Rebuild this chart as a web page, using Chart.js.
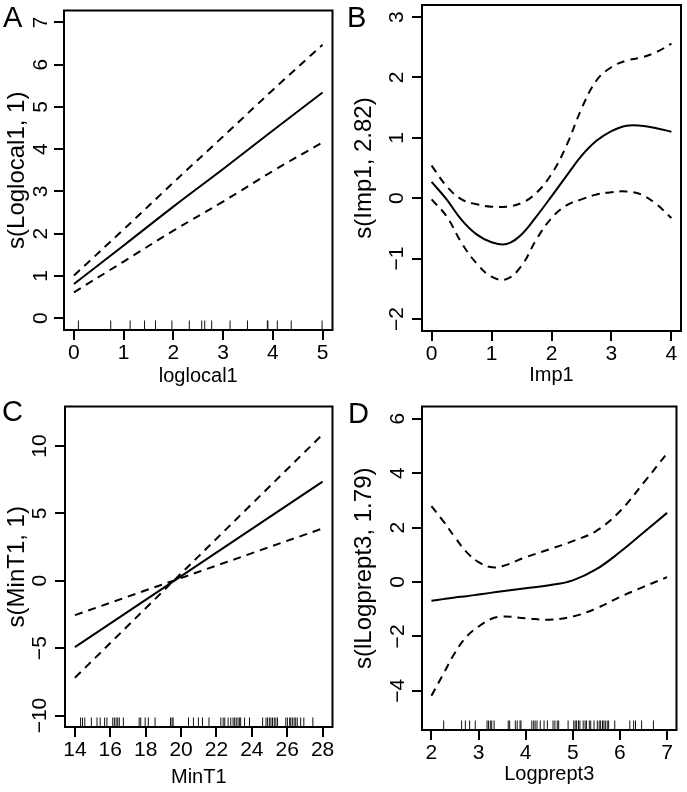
<!DOCTYPE html>
<html lang="en">
<head>
<meta charset="UTF-8">
<title>GAM smooth terms</title>
<script src="https://cdn.jsdelivr.net/npm/chart.js"></script>
<style>
  body { margin: 0; background: #fff; }
  #wrap { position: relative; width: 687px; height: 792px; }
  canvas { position: absolute; }
  .tag { position: absolute; font-family: 'Liberation Sans', Arial, sans-serif; font-size: 29px; color: #000; }
</style>
</head>
<body>
<div id="wrap">
  <canvas id="chartA" width="343" height="396" style="left:0;top:0"></canvas>
  <canvas id="chartB" width="344" height="396" style="left:343px;top:0"></canvas>
  <canvas id="chartC" width="343" height="396" style="left:0;top:396px"></canvas>
  <canvas id="chartD" width="344" height="396" style="left:343px;top:396px"></canvas>
  <div class="tag" style="left:3px;top:1px">A</div>
  <div class="tag" style="left:347px;top:1px">B</div>
  <div class="tag" style="left:2px;top:395px">C</div>
  <div class="tag" style="left:348px;top:397px">D</div>
</div>
<script>
// panel A: s(Loglocal1, 1)
var xA = [0, 1, 2, 3, 4, 5];
var fitA = [0.81, 1.72, 2.64, 3.53, 4.44, 5.34];
var upA = [1.01, 2.10, 3.21, 4.30, 5.40, 6.47];
var loA = [0.61, 1.34, 2.07, 2.76, 3.48, 4.16];
var rugA = [0.09, 0.74, 1.13, 1.42, 1.64, 1.97, 2.32, 2.57, 2.63, 2.77, 3.14, 3.49, 3.89, 3.9, 4.09, 4.37, 4.99];
var xTicksA = [0, 1, 2, 3, 4, 5];
var yTicksA = [0, 1, 2, 3, 4, 5, 6, 7];

// panel B: s(Imp1, 2.82)
var xB = [0, 0.25, 0.5, 0.75, 1, 1.25, 1.5, 1.75, 2, 2.25, 2.5, 2.75, 3, 3.25, 3.5, 3.75, 4];
var fitB = [0.27, -0.02, -0.36, -0.6, -0.73, -0.76, -0.6, -0.3, 0.03, 0.37, 0.7, 0.95, 1.11, 1.2, 1.2, 1.16, 1.1];
var upB = [0.54, 0.2, -0.02, -0.1, -0.14, -0.14, -0.08, 0.09, 0.4, 0.87, 1.48, 1.95, 2.17, 2.28, 2.33, 2.42, 2.56];
var loB = [-0.02, -0.3, -0.74, -1.08, -1.3, -1.34, -1.12, -0.68, -0.33, -0.12, -0.02, 0.06, 0.1, 0.11, 0.06, -0.1, -0.33];
var xTicksB = [0, 1, 2, 3, 4];
var yTicksB = [-2, -1, 0, 1, 2, 3];

// panel C: s(MinT1, 1)
var xC = [14, 28];
var fitC = [-4.92, 7.35];
var upC = [-7.2, 10.86];
var loC = [-2.55, 3.88];
var rugC = [14.32, 14.43, 14.56, 14.93, 15.25, 15.43, 15.68, 15.81, 16.14, 16.23, 16.33, 16.42, 16.51, 16.74,
  17.63, 17.72, 17.97, 18.15, 18.53, 19.40, 19.49, 19.55, 20.42, 20.70, 20.98, 21.21, 21.58, 22.25, 22.38,
  22.47, 22.66, 22.81, 22.94, 23.03, 23.12, 23.22, 23.31, 23.37, 23.59, 23.87, 24.61, 24.80, 24.89, 24.99,
  25.08, 25.17, 25.27, 25.36, 25.45, 25.92, 26.01, 26.14, 26.20, 26.29, 26.39, 26.48, 26.57, 26.76, 26.94, 27.45];
var xTicksC = [14, 16, 18, 20, 22, 24, 26, 28];
var yTicksC = [-10, -5, 0, 5, 10];

// panel D: s(lLogprept3, 1.79)
var xD = [2, 2.25, 2.5, 2.75, 3, 3.25, 3.5, 4, 4.5, 5, 5.5, 6, 6.5, 7];
var fitD = [-0.69, -0.63, -0.57, -0.52, -0.46, -0.4, -0.34, -0.23, -0.12, 0.06, 0.47, 1.1, 1.82, 2.54];
var upD = [2.79, 2.24, 1.64, 1.09, 0.73, 0.55, 0.58, 0.91, 1.2, 1.5, 1.88, 2.6, 3.64, 4.73];
var loD = [-4.18, -3.39, -2.6, -2.0, -1.64, -1.37, -1.27, -1.33, -1.39, -1.27, -0.97, -0.55, -0.18, 0.18];
var rugD = [2.26, 2.64, 2.72, 2.81, 2.93, 3.18, 3.21, 3.25, 3.28, 3.33, 3.63, 3.66, 3.78, 3.82, 3.88, 3.90,
  4.13, 4.17, 4.20, 4.24, 4.31, 4.39, 4.46, 4.58, 4.62, 4.67, 4.70, 4.90, 5.02, 5.05, 5.08, 5.12, 5.15, 5.22,
  5.26, 5.29, 5.35, 5.38, 5.45, 5.52, 5.56, 5.59, 5.63, 5.66, 5.69, 5.73, 5.76, 5.89, 6.21, 6.29, 6.33, 6.46, 6.71];
var xTicksD = [2, 3, 4, 5, 6, 7];
var yTicksD = [-4, -2, 0, 2, 4, 6];

var tickFont = { family: "'Liberation Sans', Arial, sans-serif", size: 21 };
var xTitleFont = { family: "'Liberation Sans', Arial, sans-serif", size: 20 };
var yTitleFont = { family: "'Liberation Sans', Arial, sans-serif", size: 24 };

function pts(xs, ys) {
  return xs.map(function (x, i) { return { x: x, y: ys[i] }; });
}
function minus(v) {
  return String(v).replace('-', '\u2212');
}

// full frame round the plot region, like R's bty="o"
var boxPlugin = {
  id: 'box',
  afterDraw: function (chart) {
    var a = chart.chartArea, ctx = chart.ctx;
    ctx.save();
    ctx.lineWidth = 2;
    ctx.strokeStyle = '#000';
    ctx.strokeRect(a.left, a.top, a.right - a.left, a.bottom - a.top);
    ctx.restore();
  }
};

function curve(data, dashed) {
  return {
    data: data,
    borderColor: '#000',
    borderWidth: 2,
    borderDash: dashed ? [8, 6] : [],
    pointRadius: 0,
    tension: 0.4,
    fill: false
  };
}

function panel(id, p) {
  var canvas = document.getElementById(id);
  var W = canvas.width, H = canvas.height;
  var datasets = [
    curve(pts(p.x, p.up), true),
    curve(pts(p.x, p.lo), true),
    curve(pts(p.x, p.fit), false)
  ];
  if (p.rug) {
    datasets.push({
      type: 'scatter',
      data: p.rug.map(function (v) { return { x: v, y: p.ymin }; }),
      pointStyle: 'line',
      pointRotation: 90,
      pointRadius: 9.5,
      pointBorderWidth: 1,
      pointBorderColor: '#111',
      borderColor: '#111'
    });
  }
  var grid = { drawOnChartArea: false, tickLength: 10, color: '#000', lineWidth: 2 };

  new Chart(canvas, {
    type: 'line',
    data: { datasets: datasets },
    options: {
      responsive: false,
      animation: false,
      events: [],
      layout: { padding: { left: 0, top: p.area.top, right: W - p.area.right, bottom: 0 } },
      plugins: { legend: { display: false }, tooltip: { enabled: false } },
      scales: {
        x: {
          type: 'linear',
          min: p.xmin,
          max: p.xmax,
          afterBuildTicks: function (s) { s.ticks = p.xTicks.map(function (v) { return { value: v }; }); },
          afterFit: function (s) { s.height = H - p.area.bottom; s.paddingLeft = 0; s.paddingRight = 0; },
          grid: grid,
          border: { display: false },
          ticks: { font: tickFont, color: '#000', padding: 1, maxRotation: 0, autoSkip: false },
          title: { display: true, text: p.xTitle, font: xTitleFont, color: '#000', padding: { top: 0, bottom: p.xTitlePad } }
        },
        y: {
          type: 'linear',
          min: p.ymin,
          max: p.ymax,
          afterBuildTicks: function (s) { s.ticks = p.yTicks.map(function (v) { return { value: v }; }); },
          afterFit: function (s) { s.width = p.area.left; s.paddingTop = 0; s.paddingBottom = 0; },
          grid: grid,
          border: { display: false },
          ticks: {
            font: tickFont, color: '#000', padding: p.yTickPad,
            minRotation: 90, maxRotation: 90, crossAlign: 'center', autoSkip: false,
            callback: function (v) { return minus(v); }
          },
          title: { display: true, text: p.yTitle, font: yTitleFont, color: '#000', padding: { top: p.yTitlePad, bottom: 0 } }
        }
      }
    },
    plugins: [boxPlugin]
  });
}

panel('chartA', {
  x: xA, fit: fitA, up: upA, lo: loA, rug: rugA, xTicks: xTicksA, yTicks: yTicksA,
  xmin: -0.2, xmax: 5.2, ymin: -0.28, ymax: 7.28,
  area: { left: 64, top: 4, right: 334, bottom: 330 },
  xTitle: 'loglocal1', yTitle: 's(Loglocal1, 1)', xTitlePad: 8, yTitlePad: 2.6, yTickPad: 7
});
panel('chartB', {
  x: xB, fit: fitB, up: upB, lo: loB, rug: null, xTicks: xTicksB, yTicks: yTicksB,
  xmin: -0.16, xmax: 4.16, ymin: -2.2, ymax: 3.2,
  area: { left: 79, top: 5, right: 338, bottom: 331 },
  xTitle: 'Imp1', yTitle: 's(Imp1, 2.82)', xTitlePad: 9, yTitlePad: 7.3, yTickPad: 2.5
});
panel('chartC', {
  x: xC, fit: fitC, up: upC, lo: loC, rug: rugC, xTicks: xTicksC, yTicks: yTicksC,
  xmin: 13.44, xmax: 28.56, ymin: -10.85, ymax: 12.93,
  area: { left: 65, top: 4, right: 336, bottom: 331 },
  xTitle: 'MinT1', yTitle: 's(MinT1, 1)', xTitlePad: 3, yTitlePad: 3, yTickPad: -3.5
});
panel('chartD', {
  x: xD, fit: fitD, up: upD, lo: loD, rug: rugD, xTicks: xTicksD, yTicks: yTicksD,
  xmin: 1.8, xmax: 7.2, ymin: -5.44, ymax: 6.45,
  area: { left: 79, top: 7, right: 338, bottom: 334 },
  xTitle: 'Logprept3', yTitle: 's(lLogprept3, 1.79)', xTitlePad: 6, yTitlePad: 7.3, yTickPad: 2
});
</script>
</body>
</html>
